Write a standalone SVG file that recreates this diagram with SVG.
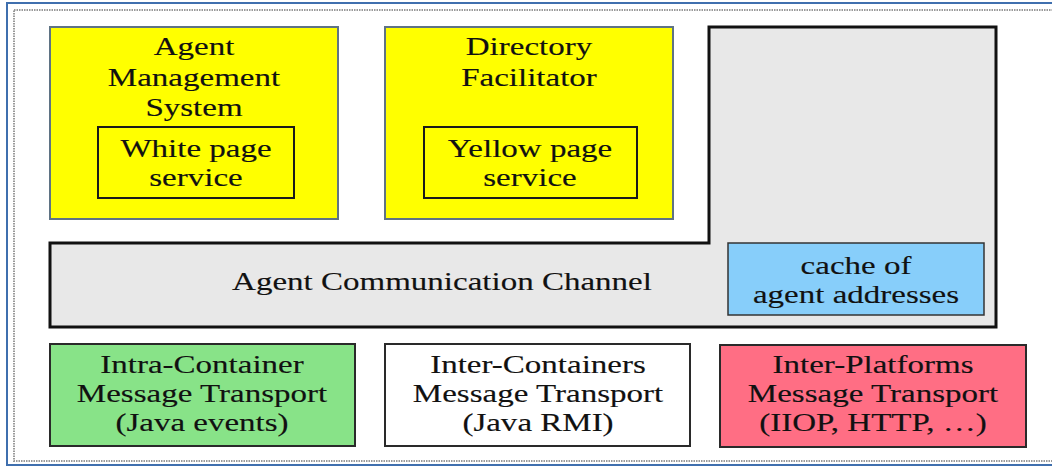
<svg xmlns="http://www.w3.org/2000/svg" width="1052" height="466" viewBox="0 0 1052 466">
<style>
text{font-family:"Liberation Serif","Times New Roman",serif;font-size:26px;fill:#111;stroke:#111;stroke-width:0.15;text-anchor:middle}
.outer{stroke:#5f7384;stroke-width:2;fill:#ffff00}
.inner{fill:none;stroke:#1a1a1a;stroke-width:2}
.lower{stroke:#2a2a2a;stroke-width:2}
</style>
<rect x="0" y="0" width="1052" height="466" fill="#fff"/>
<rect x="7" y="3" width="1080" height="462" fill="none" stroke="#3f6fae" stroke-width="2"/>
<rect x="14" y="10" width="1070" height="451" fill="none" stroke="#999" stroke-width="2" stroke-dasharray="1.5 1"/>
<g id="acc">
<path d="M50,243 H709 V27 H996 V327 H50 Z" fill="#e8e8e8" stroke="#111" stroke-width="3"/>
<text transform="translate(442,290) scale(1.27,1)">Agent Communication Channel</text>
</g>
<g id="cache">
<rect x="728" y="243" width="256" height="72" fill="#87cefa" stroke="#333" stroke-width="1.5"/>
<text transform="translate(856,274) scale(1.27,1)">cache of</text>
<text transform="translate(856,303) scale(1.27,1)">agent addresses</text>
</g>
<g id="ams">
<rect class="outer" x="50" y="27" width="288" height="192"/>
<text transform="translate(194,55) scale(1.27,1)">Agent</text>
<text transform="translate(194,86) scale(1.27,1)">Management</text>
<text transform="translate(194,116) scale(1.27,1)">System</text>
<rect class="inner" x="98" y="127" width="196" height="71"/>
<text transform="translate(196,157) scale(1.27,1)">White page</text>
<text transform="translate(196,186) scale(1.27,1)">service</text>
</g>
<g id="df">
<rect class="outer" x="385" y="27" width="288" height="192"/>
<text transform="translate(529,55) scale(1.27,1)">Directory</text>
<text transform="translate(529,86) scale(1.27,1)">Facilitator</text>
<rect class="inner" x="424" y="127" width="213" height="71"/>
<text transform="translate(530,157) scale(1.27,1)">Yellow page</text>
<text transform="translate(530,186) scale(1.27,1)">service</text>
</g>
<g id="intra">
<rect class="lower" x="50" y="344" width="305" height="102" fill="#88e388"/>
<text transform="translate(202,373) scale(1.27,1)">Intra-Container</text>
<text transform="translate(202,402) scale(1.27,1)">Message Transport</text>
<text transform="translate(202,431) scale(1.27,1)">(Java events)</text>
</g>
<g id="inter-containers">
<rect class="lower" x="385" y="344" width="305" height="102" fill="#fff"/>
<text transform="translate(538,373) scale(1.27,1)">Inter-Containers</text>
<text transform="translate(538,402) scale(1.27,1)">Message Transport</text>
<text transform="translate(538,431) scale(1.27,1)">(Java RMI)</text>
</g>
<g id="inter-platforms">
<rect class="lower" x="720" y="345" width="306" height="102" fill="#ff6e84"/>
<text transform="translate(873,373) scale(1.27,1)">Inter-Platforms</text>
<text transform="translate(873,402) scale(1.27,1)">Message Transport</text>
<text transform="translate(873,431) scale(1.27,1)">(IIOP, HTTP, …)</text>
</g>
<g id="connectors"></g>
</svg>
